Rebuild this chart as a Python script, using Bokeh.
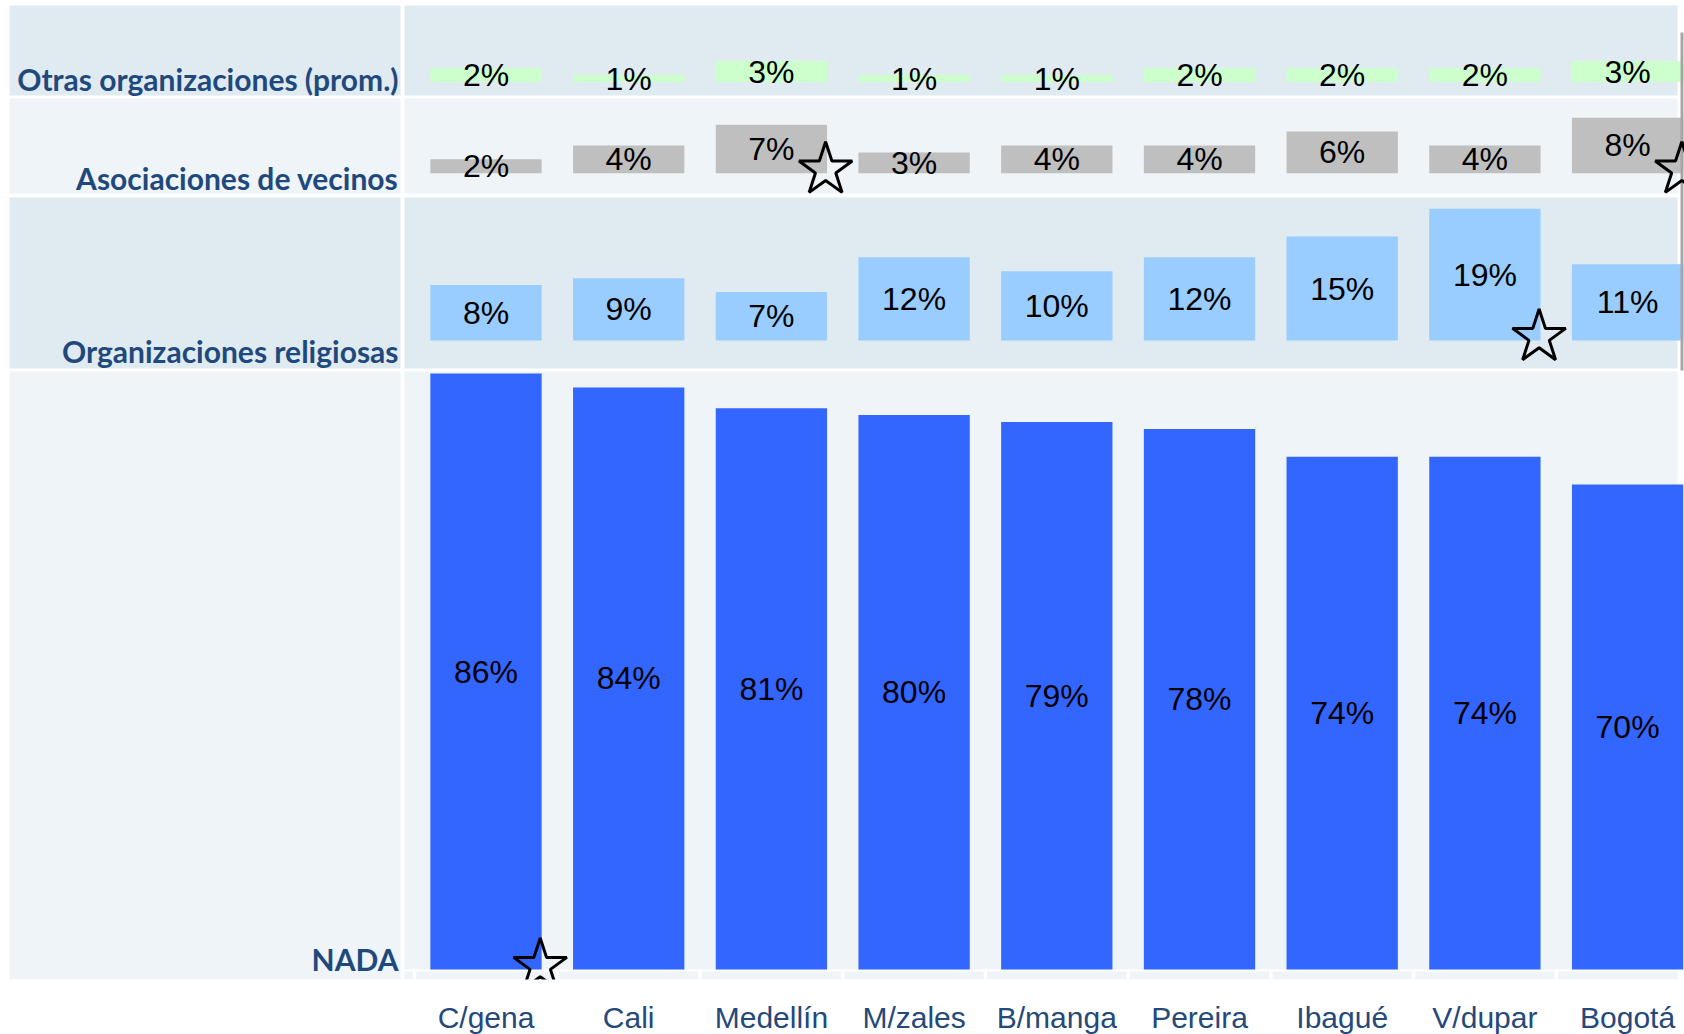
from bokeh.plotting import figure
from bokeh.models import Range1d, FixedTicker, ColumnDataSource
from bokeh.core.properties import value
from bokeh.embed import file_html
from bokeh.resources import INLINE

# ---------------- data ----------------
cities = ["C/gena", "Cali", "Medellín", "M/zales", "B/manga",
          "Pereira", "Ibagué", "V/dupar", "Bogotá"]
row_names = ["Otras organizaciones (prom.)", "Asociaciones de vecinos",
             "Organizaciones religiosas", "NADA"]
otras = [2, 1, 3, 1, 1, 2, 2, 2, 3]
asociaciones = [2, 4, 7, 3, 4, 4, 6, 4, 8]
religiosas = [8, 9, 7, 12, 10, 12, 15, 19, 11]
nada = [86, 84, 81, 80, 79, 78, 74, 74, 70]
star_rows = ["NADA", "Asociaciones de vecinos", "Organizaciones religiosas",
             "Asociaciones de vecinos"]
star_cities = ["C/gena", "Medellín", "V/dupar", "Bogotá"]

series = [otras, asociaciones, religiosas, nada]

# ---------------- layout (pixels) ----------------
FRAME_W = 1684
FRAME_H = 979
PX_PER_PCT = 6.93
UNIT_PX = 142.7
NADA_BASE_PX = 969


def u(px):
    """frame pixel (from top) -> y data units (percent)"""
    return (NADA_BASE_PX - px) / PX_PER_PCT


def xu(page_x):
    return (page_x - 485.5) / UNIT_PX


X0 = xu(0)
X1 = X0 + FRAME_W / UNIT_PX
LABEL_LEFT = xu(9)
LABEL_RIGHT = xu(400)
PLOT_LEFT = xu(404)
PLOT_RIGHT = xu(1677)

row_base_px = [81.5, 172.7, 340, 969]
row_top_px = [5, 98, 197, 371]
row_bot_px = [95, 193, 368, 979]
row_label_px = [78, 177, 350, 958]
row_bg = ["#DFEAF1", "#EEF4F8", "#DFEAF1", "#EEF4F8"]
bar_colors = ["#CCFFCC", "#BFBFC0", "#99CCFF", "#3366FF"]

p = figure(frame_width=FRAME_W, frame_height=FRAME_H,
           x_range=Range1d(X0, X1), y_range=Range1d(u(FRAME_H), u(0)),
           output_backend="svg", toolbar_location=None,
           min_border_left=0, min_border_right=0, min_border_top=0,
           min_border_bottom=0, y_axis_location=None)
p.outline_line_color = None
p.background_fill_color = "white"
p.border_fill_color = "white"
p.xgrid.visible = False
p.ygrid.visible = False

# row backgrounds (label panel + plot panel)
for k in range(4):
    top = u(row_top_px[k])
    bot = u(row_bot_px[k])
    p.quad(left=[LABEL_LEFT, PLOT_LEFT], right=[LABEL_RIGHT, PLOT_RIGHT],
           top=[top, top], bottom=[bot, bot],
           fill_color=row_bg[k], line_color=None)

# category strip separators below the bars
p.quad(left=[PLOT_LEFT], right=[PLOT_RIGHT], top=[u(969)], bottom=[u(971)],
       fill_color="white", line_color=None)
sep = [i - 0.5 for i in range(len(cities) + 1)]
p.quad(left=[s - 0.012 for s in sep], right=[s + 0.012 for s in sep],
       top=[u(969)] * len(sep), bottom=[u(FRAME_H)] * len(sep),
       fill_color="white", line_color=None)

# bars and labels
xs = list(range(len(cities)))
for k, vals in enumerate(series):
    base = u(row_base_px[k])
    src = ColumnDataSource(dict(
        x=xs, top=[base + v for v in vals], bottom=[base] * len(vals),
        ymid=[base + v / 2 for v in vals], txt=[f"{v}%" for v in vals]))
    p.vbar(x="x", width=0.78, top="top", bottom="bottom", source=src,
           fill_color=bar_colors[k], line_color=None)
    p.text(x="x", y="ymid", text="txt", source=src,
           text_align="center", text_baseline="middle",
           text_font=value("Liberation Sans"), text_font_size="32px",
           text_color="black")

# thin grey edge line on the right
p.quad(left=[xu(1680)], right=[xu(1683)], top=[u(32)], bottom=[u(370)],
       fill_color="#A6A6A6", line_color=None)

# row labels
p.text(x=[LABEL_RIGHT - 0.014] * 4, y=[u(v) for v in row_label_px],
       text=row_names, text_align="right", text_baseline="alphabetic",
       text_font=value("Lato"), text_font_style="bold",
       text_font_size="30px", text_color="#1F497D")

# stars
sx = [cities.index(c) + 0.38 for c in star_cities]
sy = [u(row_base_px[row_names.index(r)]) + 0.5 for r in star_rows]
p.scatter(x=sx, y=sy, marker="star", size=56, fill_color=None,
          line_color="black", line_width=3)

# category axis
p.xaxis.ticker = FixedTicker(ticks=xs)
p.xaxis.major_label_overrides = {i: c for i, c in enumerate(cities)}
p.xaxis.axis_line_color = None
p.xaxis.major_tick_line_color = None
p.xaxis.minor_tick_line_color = None
p.xaxis.major_label_standoff = 15
p.xaxis.major_label_text_font = "Liberation Sans"
p.xaxis.major_label_text_font_size = "30px"
p.xaxis.major_label_text_color = "#24497A"

open("out.html", "w").write(file_html(p, INLINE))
